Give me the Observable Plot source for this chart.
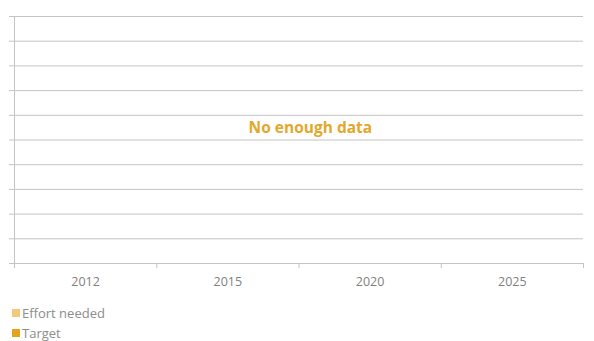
<!DOCTYPE html>
<html><head><meta charset="utf-8">
<script src="https://cdn.jsdelivr.net/npm/d3@7"></script>
<script src="https://cdn.jsdelivr.net/npm/@observablehq/plot@0.6"></script>
<style>
body{margin:0;background:#fff;font-family:"Open Sans",sans-serif;overflow:hidden;}
#legend{margin-left:12px;margin-top:3px;font-size:13px;color:#8c8c8c;line-height:20px;}
.item{display:flex;align-items:center;}
.sw{width:8px;height:8px;margin-right:2px;display:inline-block;}
</style></head>
<body>
<div id="chart"></div>
<div id="legend"></div>
<script>
const categories = ["2012", "2015", "2020", "2025"];
const gridValues = [0,1,2,3,4,5,6,7,8,9,10];
const series = ["Effort needed", "Target"];
const seriesColors = ["#f2c87c", "#e3a31c"];
const message = "No enough data";
const messagePos = {x: 2.08, y: 5.5};

const catData = categories.map((c, i) => ({c, x: i + 0.5}));
const bounds = d3.range(categories.length + 1);

const plot = Plot.plot({
  width: 594, height: 300,
  marginLeft: 9, marginRight: 11, marginTop: 16, marginBottom: 37,
  x: {type: "linear", domain: [0, categories.length], range: [14, 583], label: null},
  y: {type: "linear", domain: [0, 10], axis: null},
  style: {fontFamily: "Open Sans, sans-serif", background: "#fff"},
  marks: [
    Plot.ruleY(gridValues, {y: d => d, stroke: "#c4c4c4", strokeWidth: 1, strokeOpacity: 1}),
    Plot.ruleX([0], {x: d => d, stroke: "#c4c4c4", strokeOpacity: 1}),
    Plot.axisX({ticks: bounds, tickSize: 5, tickFormat: () => "", stroke: "#c4c4c4", strokeOpacity: 1, label: null}),
    Plot.text(catData, {x: "x", text: "c", frameAnchor: "bottom", dy: 22, fill: "#808080", fontSize: 12.5}),
    Plot.text([message], {x: () => messagePos.x, y: () => messagePos.y, text: d => d, fill: "#e3a82b", fontSize: 15.5, fontWeight: "bold"})
  ]
});
document.getElementById("chart").appendChild(plot);

const lg = document.getElementById("legend");
series.forEach((s, i) => {
  const d = document.createElement("div");
  d.className = "item";
  d.innerHTML = `<span class="sw" style="background:${seriesColors[i]}"></span>${s}`;
  lg.appendChild(d);
});
</script>
</body></html>
